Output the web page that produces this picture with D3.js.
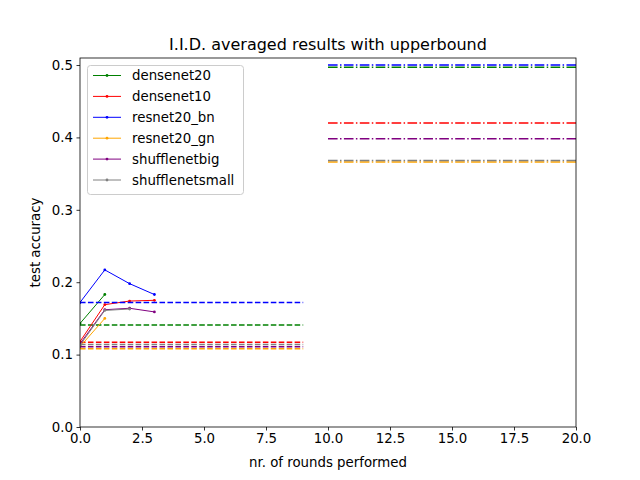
<!DOCTYPE html>
<html><head><meta charset="utf-8">
<script src="https://cdn.jsdelivr.net/npm/d3@7"></script>
<style>body{margin:0;background:#fff;} text{font-family:"DejaVu Sans",sans-serif;}</style>
</head><body>
<svg id="c" width="640" height="480"></svg>
<script>
const models = ["densenet20","densenet10","resnet20_bn","resnet20_gn","shufflenetbig","shufflenetsmall"];
const colors = ["green","red","blue","orange","purple","gray"];
const densenet20 = [0.143, 0.183];
const densenet10 = [0.118, 0.169, 0.174, 0.175];
const resnet20_bn = [0.172, 0.217, 0.198, 0.183];
const resnet20_gn = [0.111, 0.150];
const shufflenetbig = [0.115, 0.162, 0.164, 0.159];
const shufflenetsmall = [0.113, 0.161, 0.163];
const seriesValues = [densenet20, densenet10, resnet20_bn, resnet20_gn, shufflenetbig, shufflenetsmall];
const baselineValues = [0.141, 0.117, 0.172, 0.108, 0.111, 0.114];
const upperboundValues = [0.497, 0.420, 0.500, 0.366, 0.398, 0.368];
const baselineRange = [0, 9];
const upperRange = [10, 20];
const xTicks = [0, 2.5, 5, 7.5, 10, 12.5, 15, 17.5, 20];
const yTicks = [0, 0.1, 0.2, 0.3, 0.4, 0.5];

const svg = d3.select("#c");
const L = 80, R = 576, T = 58, B = 427;
const x = d3.scaleLinear().domain([0, 20]).range([L, R]);
const y = d3.scaleLinear().domain([0, 0.5097]).range([B, T]);

svg.append("defs").append("clipPath").attr("id","clip")
  .append("rect").attr("x",L).attr("y",T).attr("width",R-L).attr("height",B-T);
const plot = svg.append("g").attr("clip-path","url(#clip)");

const line = d3.line().x((d,i)=>x(i)).y(d=>y(d));
models.forEach((m, k) => {
  const c = colors[k];
  plot.append("path").datum(seriesValues[k]).attr("d", line)
    .attr("fill","none").attr("stroke",c).attr("stroke-width",1);
  plot.selectAll(null).data(seriesValues[k]).enter().append("circle")
    .attr("cx",(d,i)=>x(i)).attr("cy",d=>y(d)).attr("r",1.4).attr("fill",c);
  plot.append("line").attr("x1",x(baselineRange[0])).attr("x2",x(baselineRange[1]))
    .attr("y1",y(baselineValues[k])).attr("y2",y(baselineValues[k]))
    .attr("stroke",c).attr("stroke-width",1.5).attr("stroke-dasharray","5.55,2.4");
  plot.append("line").attr("x1",x(upperRange[0])).attr("x2",x(upperRange[1]))
    .attr("y1",y(upperboundValues[k])).attr("y2",y(upperboundValues[k]))
    .attr("stroke",c).attr("stroke-width",1.5).attr("stroke-dasharray","9.6,2.4,1.5,2.4");
});

// axes
const xa = svg.append("g").attr("transform",`translate(0,${B})`)
  .call(d3.axisBottom(x).tickValues(xTicks).tickFormat(d3.format(".1f")).tickSize(3.5).tickPadding(3.5));
const ya = svg.append("g").attr("transform",`translate(${L},0)`)
  .call(d3.axisLeft(y).tickValues(yTicks).tickFormat(d3.format(".1f")).tickSize(3.5).tickPadding(3.5));
[xa, ya].forEach(a => {
  a.select(".domain").remove();
  a.selectAll("text").attr("font-size","13.33px").attr("fill","#000").attr("font-family","DejaVu Sans");
  a.selectAll("line").attr("stroke","#000").attr("stroke-width",0.8);
});
svg.append("rect").attr("x",L).attr("y",T).attr("width",R-L).attr("height",B-T)
  .attr("fill","none").attr("stroke","#000").attr("stroke-width",0.8);

svg.append("text").attr("x",(L+R)/2).attr("y",50).attr("text-anchor","middle")
  .attr("font-size","16px").text("I.I.D. averaged results with upperbound");
svg.append("text").attr("x",(L+R)/2).attr("y",467).attr("text-anchor","middle")
  .attr("font-size","13.33px").text("nr. of rounds performed");
svg.append("text").attr("transform",`translate(40,${(T+B)/2}) rotate(-90)`).attr("text-anchor","middle")
  .attr("font-size","13.33px").text("test accuracy");

// legend
const lg = svg.append("g");
lg.append("rect").attr("x",87.5).attr("y",65.5).attr("width",156).attr("height",129).attr("rx",3)
  .attr("fill","#fff").attr("fill-opacity",0.8).attr("stroke","#ccc").attr("stroke-width",1);
models.forEach((m,k) => {
  const yy = 75.5 + k*20.9;
  lg.append("line").attr("x1",93).attr("x2",121).attr("y1",yy).attr("y2",yy).attr("stroke",colors[k]).attr("stroke-width",1);
  lg.append("circle").attr("cx",107).attr("cy",yy).attr("r",1.4).attr("fill",colors[k]);
  lg.append("text").attr("x",132).attr("y",yy+4.8).attr("font-size","13.33px").text(m);
});
</script>
</body></html>
